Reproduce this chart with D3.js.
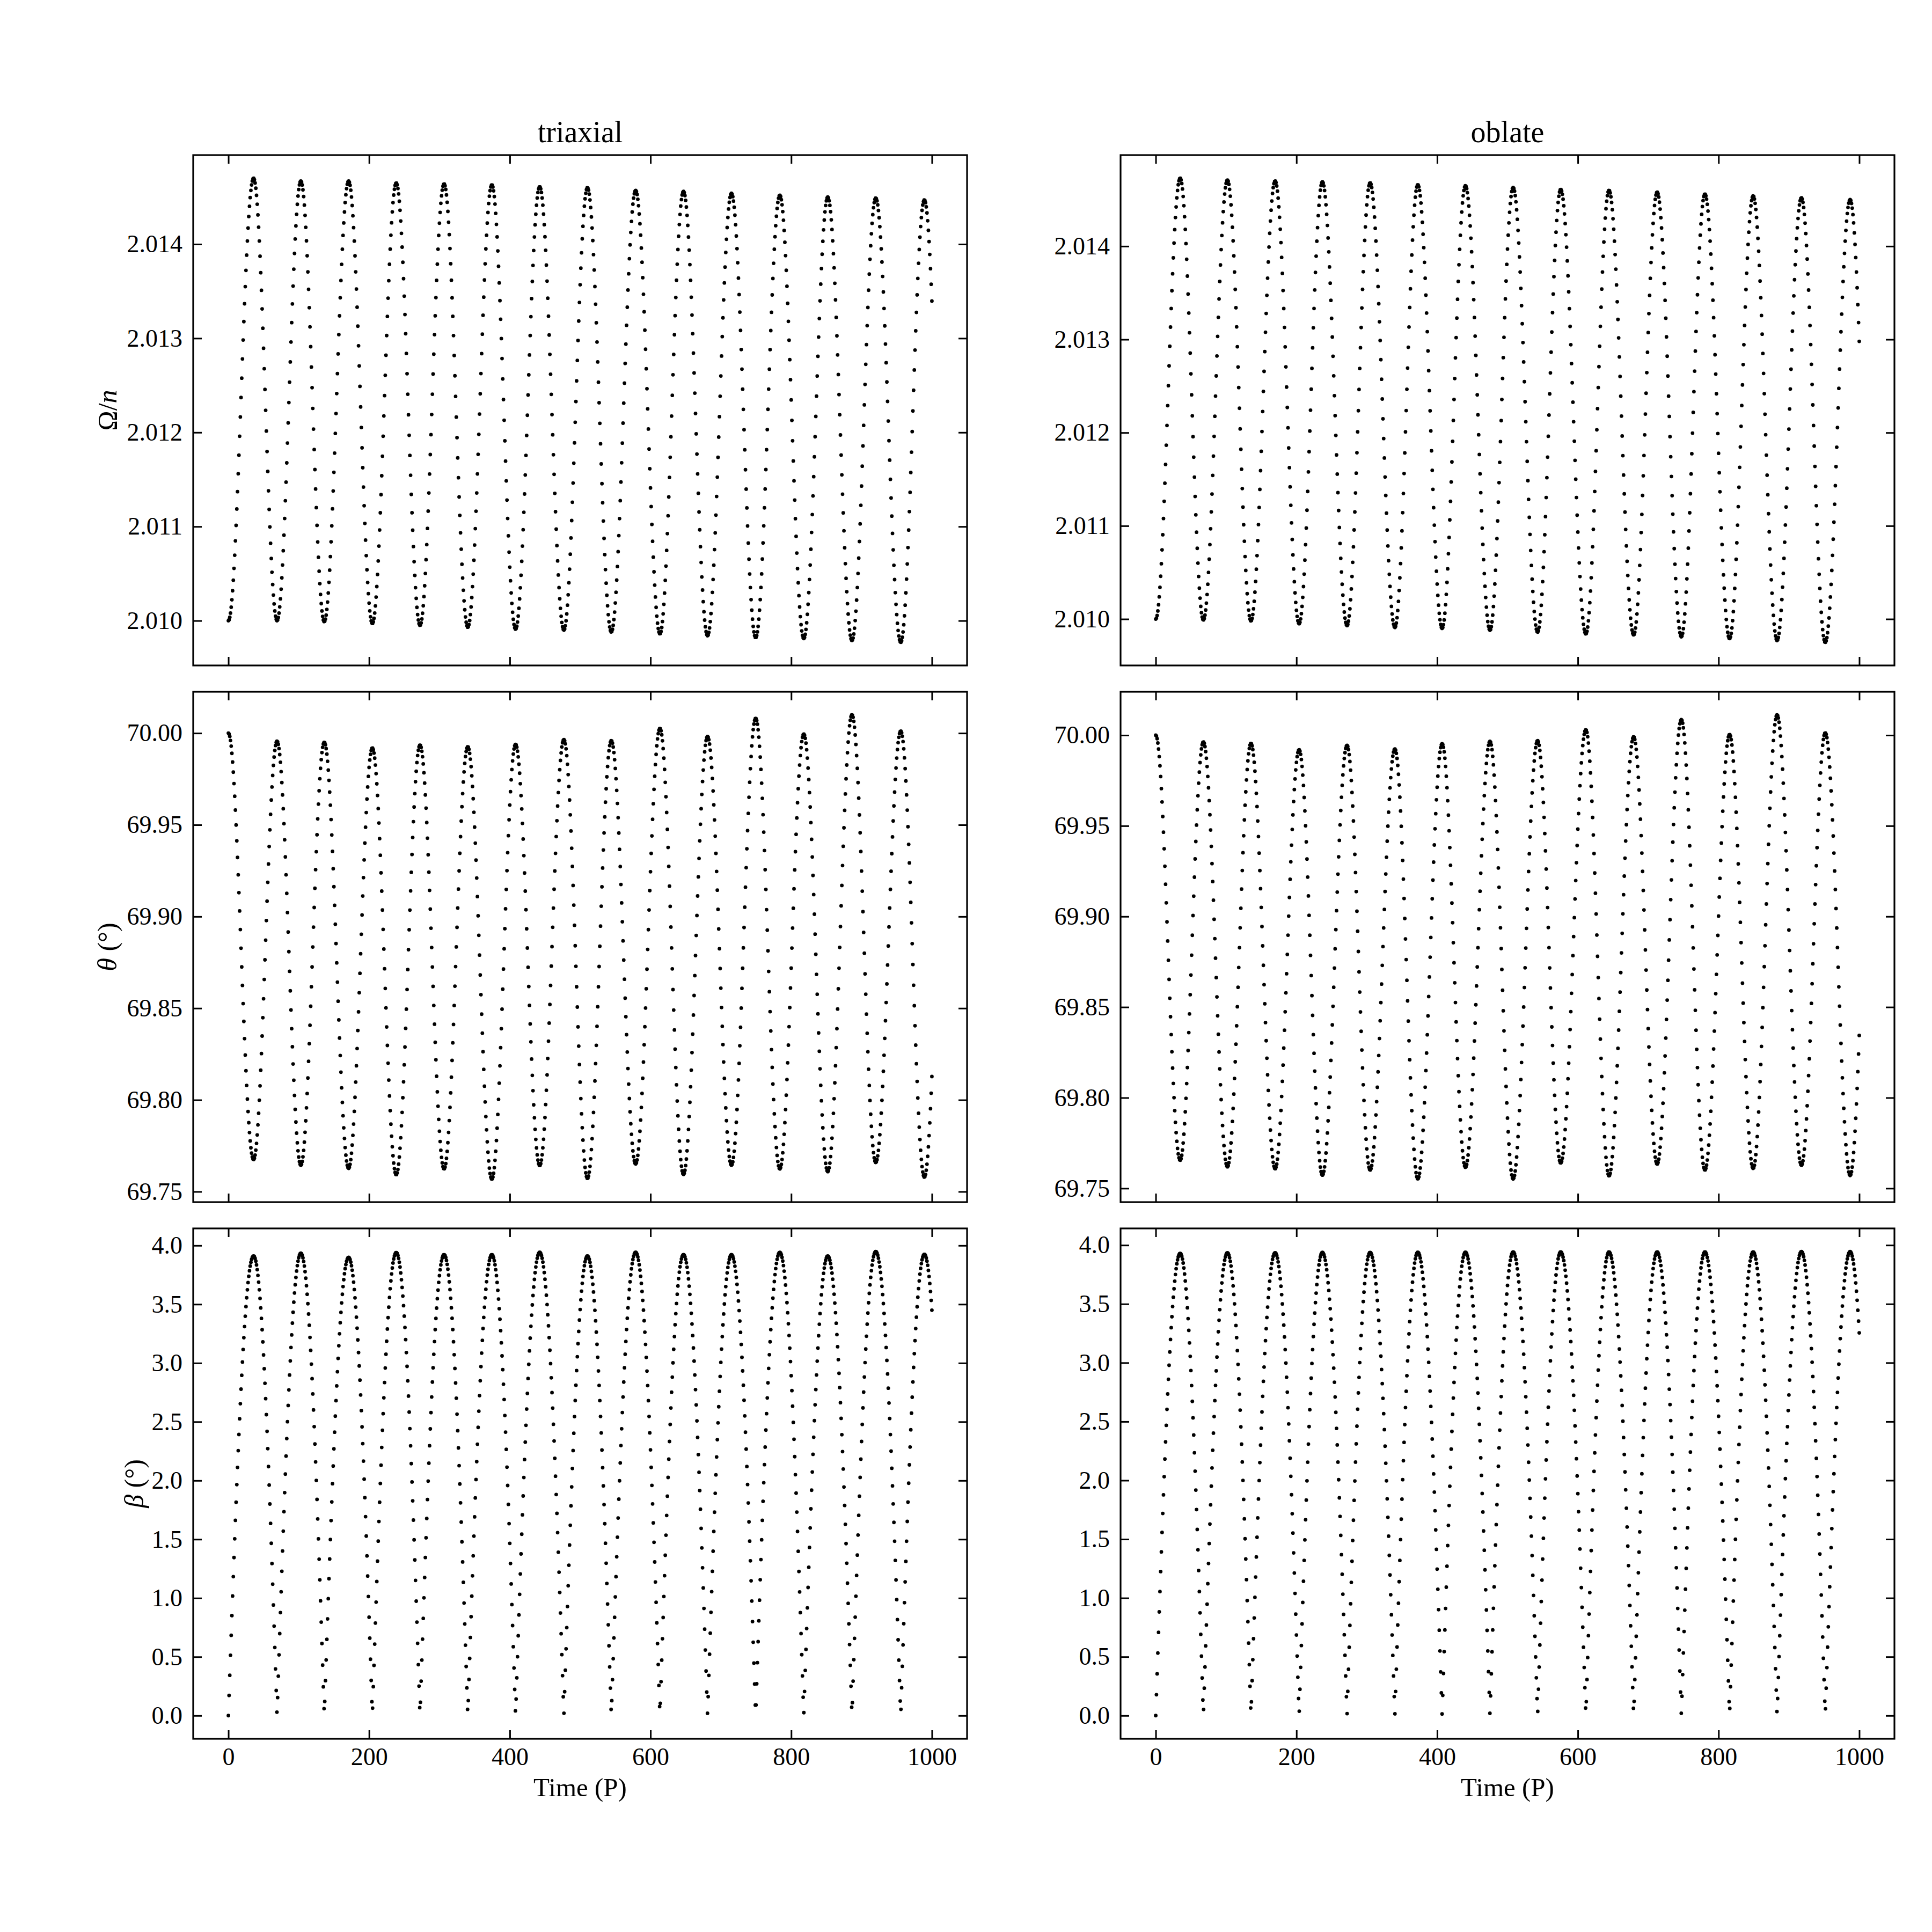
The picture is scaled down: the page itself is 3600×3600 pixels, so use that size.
<!DOCTYPE html>
<html><head><meta charset="utf-8">
<script src="https://cdn.jsdelivr.net/npm/d3@7"></script>
<style>body{margin:0;background:#fff}</style>
</head><body><svg id="c" width="3600" height="3600" xmlns="http://www.w3.org/2000/svg"></svg>
<script>
// ---------------- data ----------------
// sampling of the integration output (time in orbital periods P)
const timeStart = 0, timeEnd = 1000, timeStep = 1;

// triaxial model: times of the "low" phase (Omega minima / theta maxima / beta zeros)
const triTLow  = [0, 69.16, 136.32, 204.65, 272.37, 340.29, 408.22, 476.89, 544.29, 613.43, 681.11, 749.5, 817.86, 886.4, 955.71, 1023.1];
// times of the "high" phase (Omega maxima / theta minima / beta maxima)
const triTHigh = [35.8, 103.0, 170.9, 238.6, 306.6, 374.5, 442.5, 510.4, 578.9, 646.9, 715.1, 783.8, 852.0, 920.2, 989.3];
const triOmegaTrough = [2.01000, 2.01000, 2.00999, 2.00997, 2.00995, 2.00993, 2.00991, 2.00990, 2.00988, 2.00986, 2.00984, 2.00982, 2.00981, 2.00979, 2.00977, 2.00975];
const triOmegaPeak   = [2.01470, 2.01467, 2.01467, 2.01465, 2.01464, 2.01463, 2.01461, 2.01460, 2.01457, 2.01456, 2.01454, 2.01452, 2.01450, 2.01449, 2.01447];
const triThetaPeak   = [70.0000, 69.9956, 69.9950, 69.9919, 69.9935, 69.9926, 69.9939, 69.9965, 69.9959, 70.0026, 69.9982, 70.0081, 69.9995, 70.0100, 70.0011, 69.9990];
const triThetaTrough = [69.7675, 69.7644, 69.7627, 69.7592, 69.7624, 69.7568, 69.7642, 69.7572, 69.7651, 69.7594, 69.7644, 69.7624, 69.7609, 69.7659, 69.7579];
const triBetaPeak    = [3.911, 3.934, 3.899, 3.940, 3.922, 3.922, 3.942, 3.911, 3.942, 3.922, 3.922, 3.942, 3.911, 3.948, 3.925];

// oblate model
const oblTLow  = [0, 67.71, 135.35, 203.8, 271.91, 339.92, 407.08, 475.11, 542.81, 611.37, 679.35, 747.11, 815.67, 883.19, 951.67, 1021.0];
const oblTHigh = [34.7, 101.9, 169.7, 236.9, 304.7, 372.5, 440.2, 508.0, 575.6, 644.3, 712.7, 780.6, 849.2, 917.8, 987.0];
const oblOmegaTrough = [2.01000, 2.00999, 2.00998, 2.00995, 2.00993, 2.00991, 2.00990, 2.00988, 2.00986, 2.00984, 2.00983, 2.00981, 2.00979, 2.00977, 2.00975, 2.00974];
const oblOmegaPeak   = [2.01473, 2.01471, 2.01470, 2.01469, 2.01468, 2.01466, 2.01465, 2.01463, 2.01461, 2.01460, 2.01458, 2.01456, 2.01454, 2.01452, 2.01450];
const oblThetaPeak   = [70.0000, 69.9963, 69.9955, 69.9920, 69.9944, 69.9924, 69.9953, 69.9966, 69.9970, 70.0030, 69.9991, 70.0086, 70.0004, 70.0112, 70.0013, 69.9990];
const oblThetaTrough = [69.7655, 69.7619, 69.7608, 69.7573, 69.7601, 69.7552, 69.7616, 69.7552, 69.7640, 69.7569, 69.7634, 69.7601, 69.7610, 69.7627, 69.7571];
const oblBetaPeak    = [3.930, 3.935, 3.935, 3.938, 3.938, 3.940, 3.940, 3.942, 3.942, 3.942, 3.942, 3.942, 3.942, 3.945, 3.945];
const betaAtLow = 0;   // beta passes through zero at every "low" time

// tick values
const xTicks = [0, 200, 400, 600, 800, 1000];
const omegaTicks = [2.010, 2.011, 2.012, 2.013, 2.014];
const thetaTicks = [69.75, 69.80, 69.85, 69.90, 69.95, 70.00];
const betaTicks = [0.0, 0.5, 1.0, 1.5, 2.0, 2.5, 3.0, 3.5, 4.0];
const titles = ["triaxial", "oblate"];

// ---------------- drawing ----------------
const svg = d3.select('#c');
svg.append('rect').attr('width', 3600).attr('height', 3600).attr('fill', '#fff');
const FONT = '"Liberation Serif", "DejaVu Serif", serif';
const FS_TICK = 46, FS_LABEL = 49, FS_TITLE = 56, FS_YLABEL = 50;
const colX = [[360, 1802], [2088, 3530]];
const rowY = [[289, 1240], [1289, 2240], [2289, 3240]];
const times = d3.range(timeStart, timeEnd + timeStep / 2, timeStep);

function nodesOf(tLow, lowVals, tHigh, highVals) {
  const n = [];
  for (let i = 0; i < tLow.length; i++) {
    n.push({t: tLow[i], v: lowVals[i], low: true});
    if (i < tHigh.length) n.push({t: tHigh[i], v: highVals[i], low: false});
  }
  return n;
}
const bis = d3.bisector(d => d.t).right;
function valueAt(nodes, t, cusp) {
  let i = bis(nodes, t) - 1;
  i = Math.max(0, Math.min(nodes.length - 2, i));
  const a = nodes[i], b = nodes[i + 1];
  const s = (t - a.t) / (b.t - a.t);
  if (cusp) {
    return a.low ? b.v * Math.sin(Math.PI * s / 2) : a.v * Math.cos(Math.PI * s / 2);
  }
  return a.v + (b.v - a.v) * (1 - Math.cos(Math.PI * s)) / 2;
}

const models = [
  {tLow: triTLow, tHigh: triTHigh, om: [triOmegaTrough, triOmegaPeak], th: [triThetaPeak, triThetaTrough], be: triBetaPeak},
  {tLow: oblTLow, tHigh: oblTHigh, om: [oblOmegaTrough, oblOmegaPeak], th: [oblThetaPeak, oblThetaTrough], be: oblBetaPeak}
];

const rows = [
  {key: 'om', ticks: omegaTicks, fmt: d3.format('.3f'), cusp: false},
  {key: 'th', ticks: thetaTicks, fmt: d3.format('.2f'), cusp: false},
  {key: 'be', ticks: betaTicks, fmt: d3.format('.1f'), cusp: true}
];

models.forEach((m, c) => {
  rows.forEach((r, ri) => {
    let nodes;
    if (r.key === 'be') nodes = nodesOf(m.tLow, m.tLow.map(() => betaAtLow), m.tHigh, m.be);
    else nodes = nodesOf(m.tLow, m[r.key][0], m.tHigh, m[r.key][1]);
    const pts = times.map(t => ({t, v: valueAt(nodes, t, r.cusp)}));
    const [x0, x1] = colX[c], [y0, y1] = rowY[ri];
    const x = d3.scaleLinear().domain([timeStart - 0.05 * (timeEnd - timeStart), timeEnd + 0.05 * (timeEnd - timeStart)]).range([x0, x1]);
    const ext = d3.extent(pts, d => d.v);
    const pad = 0.05 * (ext[1] - ext[0]);
    const y = d3.scaleLinear().domain([ext[0] - pad, ext[1] + pad]).range([y1, y0]);

    const g = svg.append('g');
    g.append('g').selectAll('circle').data(pts).join('circle')
      .attr('cx', d => x(d.t)).attr('cy', d => y(d.v)).attr('r', 3.4).attr('fill', '#000');

    const TL = 16;
    const styleAxis = sel => {
      sel.select('.domain').remove();
      sel.selectAll('line').attr('stroke', '#000').attr('stroke-width', 3);
      sel.selectAll('text').attr('font-family', FONT).attr('font-size', FS_TICK).attr('fill', '#000');
    };
    g.append('g').attr('transform', `translate(${x0},0)`)
      .call(d3.axisLeft(y).tickValues(r.ticks).tickFormat(r.fmt).tickSize(-TL).tickPadding(20)).call(styleAxis);
    g.append('g').attr('transform', `translate(${x1},0)`)
      .call(d3.axisRight(y).tickValues(r.ticks).tickFormat('').tickSize(-TL)).call(styleAxis);
    g.append('g').attr('transform', `translate(0,${y0})`)
      .call(d3.axisTop(x).tickValues(xTicks).tickFormat('').tickSize(-TL)).call(styleAxis);
    g.append('g').attr('transform', `translate(0,${y1})`)
      .call(d3.axisBottom(x).tickValues(xTicks).tickFormat(ri === 2 ? d3.format('d') : '').tickSize(-TL).tickPadding(16)).call(styleAxis);

    g.append('rect').attr('x', x0).attr('y', y0).attr('width', x1 - x0).attr('height', y1 - y0)
      .attr('fill', 'none').attr('stroke', '#000').attr('stroke-width', 3.2);

    if (ri === 0) {
      svg.append('text').attr('x', (x0 + x1) / 2).attr('y', 265).attr('text-anchor', 'middle')
        .attr('font-family', FONT).attr('font-size', FS_TITLE).text(titles[c]);
    }
    if (ri === 2) {
      svg.append('text').attr('x', (x0 + x1) / 2).attr('y', 3347).attr('text-anchor', 'middle')
        .attr('font-family', FONT).attr('font-size', FS_LABEL).text('Time (P)');
    }
    if (c === 0) {
      const lx = ri === 2 ? 250 : 200;
      const cy = (y0 + y1) / 2;
      const t = svg.append('text').attr('transform', `translate(${lx},${cy}) rotate(-90)`)
        .attr('text-anchor', 'middle').attr('dominant-baseline', 'central')
        .attr('font-family', FONT).attr('font-size', FS_YLABEL);
      if (ri === 0) { t.append('tspan').text('Ω/'); t.append('tspan').attr('font-style', 'italic').text('n'); }
      if (ri === 1) { t.append('tspan').attr('font-style', 'italic').text('θ'); t.append('tspan').text(' (°)'); }
      if (ri === 2) { t.append('tspan').attr('font-style', 'italic').text('β'); t.append('tspan').text(' (°)'); }
    }
  });
});
</script></body></html>
